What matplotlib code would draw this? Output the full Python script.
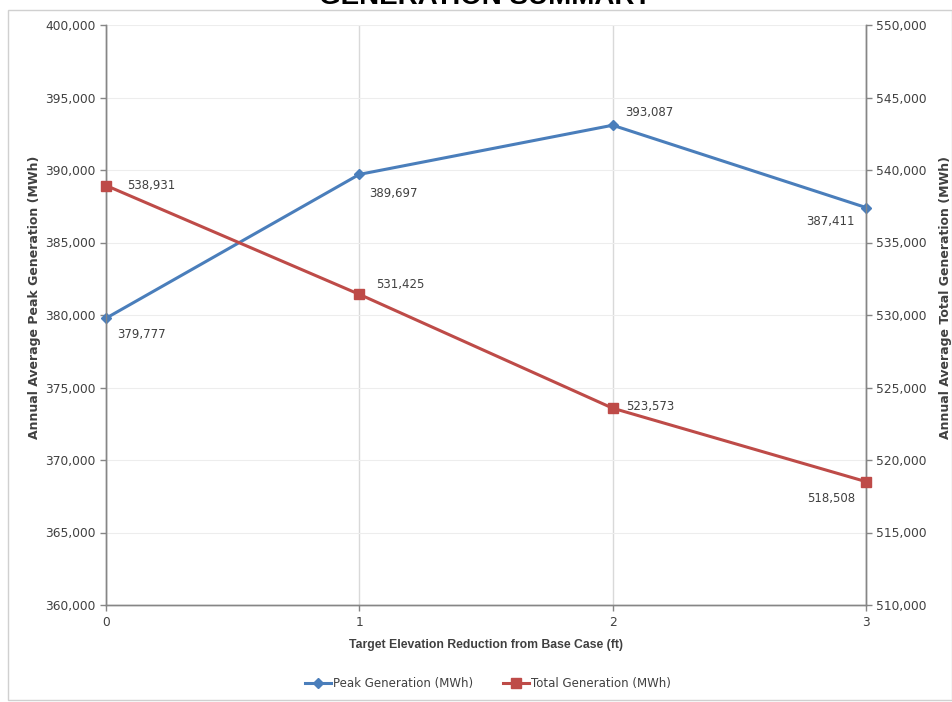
import numpy as np
import matplotlib
matplotlib.use("Agg")
import matplotlib.pyplot as plt
from matplotlib.patches import Rectangle
from matplotlib.ticker import FuncFormatter, MultipleLocator

reduction_ft = [0, 1, 2, 3]
peak_mwh = [379777, 389697, 393087, 387411]
total_mwh = [538931, 531425, 523573, 518508]

# label offsets in points (dx, dy, horizontal alignment)
peak_offsets = [(8, -12, "left"), (7, -14, "left"), (9, 9, "left"), (-8, -10, "right")]
total_offsets = [(15, 0, "left"), (12, 7, "left"), (10, 1, "left"), (-8, -12, "right")]

BLUE = "#4a7ebb"
RED = "#be4b48"
AXIS = "#868686"
TXT = "#404040"

plt.rcParams["font.family"] = ["DejaVu Sans"]
comma = FuncFormatter(lambda v, p: f"{int(round(v)):,}")

fig = plt.figure(figsize=(9.53, 7.02), dpi=100, facecolor="white")
fig.patches.append(Rectangle((8 / 953, 2 / 702), 944 / 953, 690 / 702, transform=fig.transFigure,
                             fill=False, edgecolor="#d0d0d0", lw=1))
ax = fig.add_axes([106 / 953, 1 - 605 / 702, 760 / 953, 580 / 702])
ax2 = ax.twinx()

ax.set_xlim(0, 3)
ax.set_ylim(360000, 400000)
ax2.set_ylim(510000, 550000)
ax.yaxis.set_major_locator(MultipleLocator(5000))
ax2.yaxis.set_major_locator(MultipleLocator(5000))
ax.set_xticks(reduction_ft)
ax.yaxis.set_major_formatter(comma)
ax2.yaxis.set_major_formatter(comma)

ax.grid(True, axis="y", color="#ededed", lw=0.8)
ax.grid(True, axis="x", color="#d9d9d9", lw=1.0)
ax.set_axisbelow(True)
for a in (ax, ax2):
    a.spines["top"].set_visible(False)
    for s in ("left", "right", "bottom"):
        a.spines[s].set_color(AXIS)
        a.spines[s].set_linewidth(1.0)
    a.tick_params(colors=AXIS, labelcolor=TXT, labelsize=8.8, length=4, width=1)
ax.tick_params(axis="x", pad=4)

lp, = ax.plot(reduction_ft, peak_mwh, color=BLUE, lw=2.2, marker="D", ms=5,
              label="Peak Generation (MWh)", clip_on=False, zorder=3)
lt, = ax2.plot(reduction_ft, total_mwh, color=RED, lw=2.2, marker="s", ms=7,
               label="Total Generation (MWh)", clip_on=False, zorder=3)

for x, v, (dx, dy, ha) in zip(reduction_ft, peak_mwh, peak_offsets):
    ax.annotate(f"{v:,}", (x, v), xytext=(dx, dy), textcoords="offset points",
                ha=ha, va="center", fontsize=8.5, color=TXT)
for x, v, (dx, dy, ha) in zip(reduction_ft, total_mwh, total_offsets):
    ax2.annotate(f"{v:,}", (x, v), xytext=(dx, dy), textcoords="offset points",
                 ha=ha, va="center", fontsize=8.5, color=TXT)

ax.set_xlabel("Target Elevation Reduction from Base Case (ft)", fontsize=8.8, fontweight="bold",
              family="Liberation Sans", color=TXT, labelpad=7)
ax.set_ylabel("Annual Average Peak Generation (MWh)", fontsize=9, fontweight="bold", color=TXT)
ax2.set_ylabel("Annual Average Total Generation (MWh)", fontsize=9, fontweight="bold", color=TXT)
ax.yaxis.set_label_coords(-0.0855, 0.53)
ax2.yaxis.set_label_coords(1.096, 0.53)

fig.text(485 / 953, 1 - 4 / 702, "GENERATION SUMMARY", ha="center", va="baseline",
         fontsize=20, fontweight="bold", family="Liberation Sans", color="black")

fig.legend(handles=[lp, lt], loc="center", bbox_to_anchor=(488 / 953, 1 - 684 / 702), ncol=2,
           frameon=False, fontsize=8.5, handlelength=2.2, handletextpad=0.1, columnspacing=2.6,
           labelcolor=TXT)

fig.savefig("out.png", dpi=100)
